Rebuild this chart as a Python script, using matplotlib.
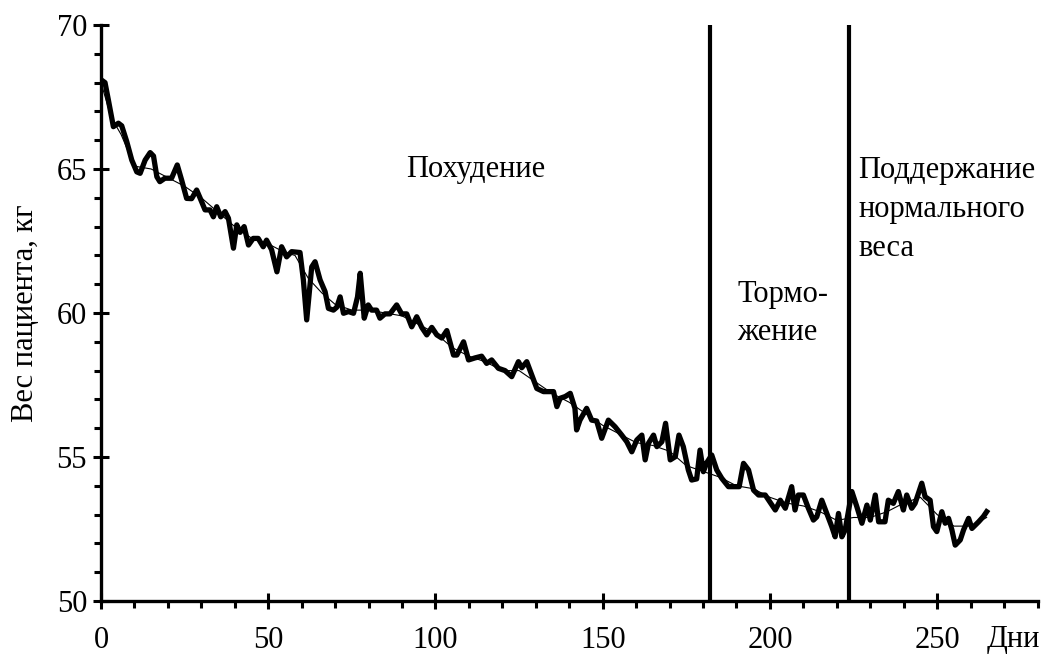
import matplotlib
matplotlib.use("Agg")
import matplotlib.pyplot as plt
from matplotlib.ticker import MultipleLocator

plt.rcParams['font.family'] = ['Liberation Serif', 'DejaVu Serif']

# Daily weight (thick line)
days = [0, 1.2, 2.2, 3.7, 5.2, 6.2, 7.7, 9.2, 10.7, 11.7, 13.2, 14.7, 15.7, 16.7, 17.6,
        19.1, 21.1, 22.8, 24.1, 25.6, 27.1, 28.6, 29.6, 31.1, 32.6, 33.6, 34.6, 35.8,
        37.1, 38.1, 39.6, 40.6, 41.6, 42.8, 44.1, 45.5, 47, 48.5, 49.5, 51, 52.6, 54,
        55.5, 57, 59.5, 60.5, 61.5, 63, 64, 65.5, 67, 68, 69.5, 70.5, 71.5, 72.5, 74,
        75.5, 76.7, 77.5, 78.7, 79.9, 80.9, 82.4, 83.4, 84.9, 86.4, 88.4, 89.9, 91.4,
        92.9, 94.4, 95.9, 97.4, 98.9, 100.4, 101.9, 103.4, 105.4, 106.4, 108.4, 109.9,
        111.8, 113.8, 115.3, 116.8, 118.8, 120.8, 122.8, 124.8, 125.8, 127.3, 128.3,
        130.3, 132.3, 135.3, 136.3, 137.3, 138.8, 140.3, 141.7, 142.2, 143.2, 145.2,
        146.7, 148.2, 149.7, 151.7, 153.7, 155.7, 157.2, 158.7, 160.2, 161.7, 162.7,
        163.7, 165.2, 166.2, 167.7, 168.8, 170.2, 171.7, 172.8, 174.1, 175.6, 176.6,
        178.1, 179.1, 180.1, 181.1, 182.6, 184.1, 185.6, 187.6, 189.6, 190.8, 192.1,
        193.6, 195.1, 196.6, 198.6, 201.6, 203.1, 204.6, 206.5, 207.5, 208.5, 210,
        211.5, 213, 214, 215.5, 217, 218.5, 219.5, 220.5, 221.5, 222.5, 224.5, 226,
        227.5, 229, 230, 231.5, 232.5, 234.4, 235.4, 236.9, 238.4, 239.9, 240.9, 242.4,
        243.4, 245.4, 246.4, 247.9, 248.9, 249.9, 251.4, 252.4, 253.4, 254.4, 255.4,
        256.9, 257.9, 259.4, 260.4, 262.4, 263.8, 264.8]
weight = [68.1, 68.0, 67.4, 66.47, 66.59, 66.5, 65.95, 65.31, 64.9, 64.85, 65.31, 65.57,
          65.45, 64.73, 64.56, 64.68, 64.68, 65.14, 64.62, 63.98, 63.97, 64.27, 64.0, 63.58,
          63.58, 63.34, 63.69, 63.34, 63.52, 63.29, 62.25, 63.06, 62.8, 63.0, 62.36, 62.59,
          62.59, 62.3, 62.53, 62.2, 61.43, 62.3, 61.95, 62.13, 62.1, 61.15, 59.76, 61.6,
          61.78, 61.15, 60.74, 60.16, 60.1, 60.2, 60.56, 59.99, 60.05, 59.99, 60.56, 61.38,
          59.82, 60.28, 60.1, 60.1, 59.82, 59.97, 59.97, 60.28, 59.97, 59.97, 59.52, 59.87,
          59.5, 59.24, 59.5, 59.24, 59.13, 59.39, 58.54, 58.54, 59.0, 58.37, 58.44, 58.5,
          58.25, 58.37, 58.08, 58.0, 57.79, 58.31, 58.1, 58.31, 58.0, 57.38, 57.27, 57.27,
          56.75, 57.04, 57.1, 57.21, 56.69, 55.94, 56.28, 56.69, 56.28, 56.25, 55.65, 56.28,
          56.05, 55.76, 55.53, 55.18, 55.59, 55.76, 54.9, 55.48, 55.76, 55.36, 55.53, 56.17,
          54.9, 55.01, 55.76, 55.36, 54.55, 54.2, 54.24, 55.24, 54.49, 54.8, 55.07, 54.55,
          54.26, 53.97, 53.97, 53.97, 54.78, 54.55, 53.85, 53.68, 53.68, 53.16, 53.5, 53.22,
          53.97, 53.16, 53.68, 53.68, 53.22, 52.81, 52.92, 53.5, 53.04, 52.58, 52.23, 53.04,
          52.23, 52.47, 53.8, 53.27, 52.7, 53.33, 52.81, 53.68, 52.75, 52.75, 53.5, 53.39,
          53.8, 53.16, 53.68, 53.22, 53.39, 54.09, 53.62, 53.5, 52.58, 52.41, 53.1, 52.7,
          52.87, 52.47, 51.94, 52.12, 52.47, 52.87, 52.52, 52.75, 52.93, 53.1]

# Smoothed trend (thin line)
trend_days = [0, 3, 6, 10, 15, 20, 25, 30, 35, 40, 45, 50, 55, 58, 62, 66, 70, 75, 80,
              85, 90, 95, 100, 105, 110, 115, 120, 125, 130, 135, 140, 145, 150, 155,
              160, 165, 170, 175, 180, 185, 190, 195, 200, 205, 210, 215, 220, 225, 230,
              235, 240, 245, 250, 255, 260, 264.8]
trend = [68.0, 66.8, 66.2, 65.1, 65.0, 64.7, 64.4, 64.0, 63.5, 63.0, 62.6, 62.4, 62.1,
         62.0, 61.2, 60.7, 60.3, 60.1, 60.1, 60.0, 59.9, 59.6, 59.3, 58.8, 58.5, 58.3,
         58.0, 58.0, 57.6, 57.2, 56.9, 56.5, 56.1, 55.8, 55.5, 55.4, 55.2, 54.7, 54.5,
         54.3, 54.0, 53.9, 53.6, 53.4, 53.3, 53.1, 52.8, 52.9, 52.9, 53.1, 53.4, 53.6,
         53.0, 52.6, 52.6, 52.9]

phase_bounds = [182, 223.5]

fig = plt.figure(figsize=(10.41, 6.59), dpi=100)
ax = fig.add_axes([101/1041, 1 - 601/659, (1037.5 - 101)/1041, (601 - 25)/659])

ax.plot(trend_days, trend, color='black', lw=0.8, zorder=2)
ax.plot(days, weight, color='black', lw=3.8, zorder=3, solid_joinstyle='round')
for b in phase_bounds:
    ax.axvline(b, color='black', lw=3.0, zorder=4)

ax.set_xlim(0, 280)
ax.set_ylim(50, 70)
for s in ['top', 'right']:
    ax.spines[s].set_visible(False)
for s in ['left', 'bottom']:
    ax.spines[s].set_linewidth(2.4)

ax.xaxis.set_major_locator(MultipleLocator(50))
ax.xaxis.set_minor_locator(MultipleLocator(10))
ax.yaxis.set_major_locator(MultipleLocator(5))
ax.yaxis.set_minor_locator(MultipleLocator(1))
ax.tick_params(axis='x', which='major', direction='inout', length=12, width=2.2,
               labelsize=22, pad=12)
ax.tick_params(axis='x', which='minor', direction='out', length=5, width=2.2)
ax.tick_params(axis='y', which='major', direction='inout', length=12, width=2.2,
               labelsize=22, pad=4)
ax.tick_params(axis='y', which='minor', direction='out', length=5, width=2.2)

ax.set_ylabel('Вес пациента, кг', fontsize=22, labelpad=12)

ax.text(112, 65.0, 'Похудение', fontsize=22, ha='center', va='center')
ax.text(190.2, 59.97, 'Тормо-\nжение', fontsize=22, ha='left', va='center', linespacing=1.4)
ax.text(226.4, 63.6, 'Поддержание\nнормального\nвеса', fontsize=22, ha='left',
        va='center', linespacing=1.45)
fig.text(1040/1041, 1 - 640/659, 'Дни', fontsize=22, ha='right', va='center')

fig.savefig('out.png', dpi=100)
